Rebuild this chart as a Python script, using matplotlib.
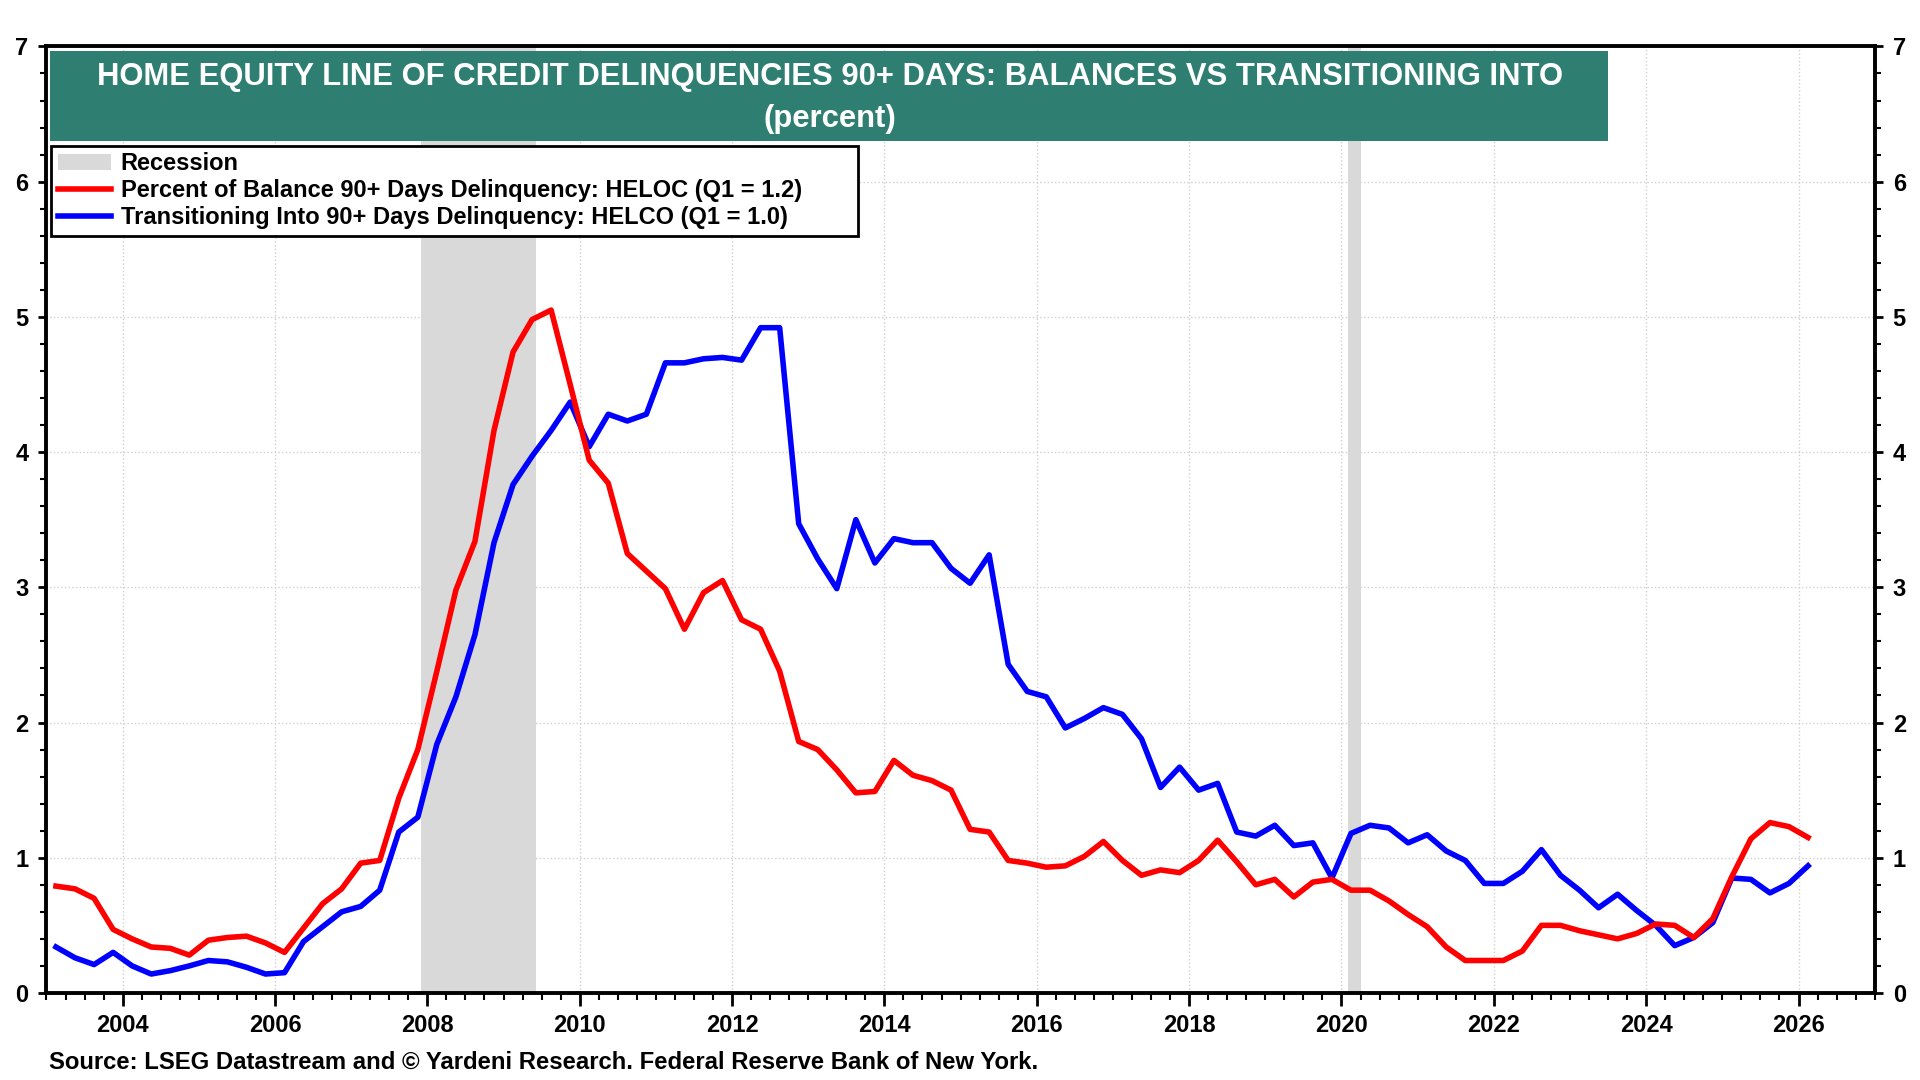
import matplotlib
matplotlib.use('Agg')
import matplotlib.pyplot as plt
import pandas as pd
from matplotlib.patches import Rectangle, Patch
from matplotlib.lines import Line2D
from matplotlib.ticker import MultipleLocator

plt.rcParams['font.family'] = ['Liberation Sans', 'DejaVu Sans']
plt.rcParams['font.weight'] = 'bold'

# Quarterly data, 2003Q1 .. 2026Q1
quarters = pd.period_range('2003Q1', '2026Q1', freq='Q')

# Percent of balance 90+ days delinquent: HELOC (red)
heloc_balance = [
    0.79, 0.77, 0.70, 0.47, 0.40, 0.34, 0.33, 0.28, 0.39, 0.41, 0.42, 0.37,
    0.30, 0.48, 0.66, 0.77, 0.96, 0.98, 1.44, 1.80, 2.38, 2.98, 3.34, 4.16,
    4.74, 4.98, 5.05, 4.50, 3.94, 3.77, 3.25, 3.12, 2.99, 2.69, 2.96, 3.05,
    2.76, 2.69, 2.38, 1.86, 1.80, 1.65, 1.48, 1.49, 1.72, 1.61, 1.57, 1.50,
    1.21, 1.19, 0.98, 0.96, 0.93, 0.94, 1.01, 1.12, 0.98, 0.87, 0.91, 0.89,
    0.98, 1.13, 0.97, 0.80, 0.84, 0.71, 0.82, 0.84, 0.76, 0.76, 0.68, 0.58,
    0.49, 0.34, 0.24, 0.24, 0.24, 0.31, 0.50, 0.50, 0.46, 0.43, 0.40, 0.44,
    0.51, 0.50, 0.41, 0.55, 0.86, 1.14, 1.26, 1.23, 1.15,
]

# Transitioning into 90+ days delinquency: HELOC (blue)
helco_transition = [
    0.34, 0.26, 0.21, 0.30, 0.20, 0.14, 0.165, 0.20, 0.24, 0.23, 0.19, 0.14,
    0.15, 0.38, 0.49, 0.60, 0.64, 0.76, 1.19, 1.30, 1.84, 2.19, 2.65, 3.33,
    3.76, 3.97, 4.16, 4.37, 4.04, 4.28, 4.23, 4.28, 4.66, 4.66, 4.69, 4.70,
    4.68, 4.92, 4.92, 3.47, 3.21, 2.99, 3.50, 3.18, 3.36, 3.33, 3.33, 3.14,
    3.03, 3.24, 2.43, 2.23, 2.19, 1.96, 2.03, 2.11, 2.06, 1.88, 1.52, 1.67,
    1.50, 1.55, 1.19, 1.16, 1.24, 1.09, 1.11, 0.85, 1.18, 1.24, 1.22, 1.11,
    1.17, 1.05, 0.98, 0.81, 0.81, 0.90, 1.06, 0.87, 0.76, 0.63, 0.73, 0.61,
    0.50, 0.35, 0.41, 0.52, 0.85, 0.84, 0.74, 0.81, 0.94,
]

recessions = [(2007.92, 2009.42), (2020.09, 2020.26)]

label_red = 'Percent of Balance 90+ Days Delinquency: HELOC (Q1 = 1.2)'
label_blue = 'Transitioning Into 90+ Days Delinquency: HELCO (Q1 = 1.0)'
title_1 = 'HOME EQUITY LINE OF CREDIT DELINQUENCIES 90+ DAYS: BALANCES VS TRANSITIONING INTO'
title_2 = '(percent)'
source = 'Source: LSEG Datastream and \u00a9 Yardeni Research. Federal Reserve Bank of New York.'

# decimal year, middle of each quarter
x = quarters.year + (quarters.quarter - 1) * 0.25 + 0.125

fig = plt.figure(figsize=(19.2, 10.8), dpi=100)
ax = fig.add_axes([0.0242, 0.0806, 0.9522, 0.8764])

for start, end in recessions:
    ax.axvspan(start, end, color='#d9d9d9', lw=0, zorder=1)

ax.plot(x, helco_transition, color='#0000ff', lw=4, zorder=3)
ax.plot(x, heloc_balance, color='#ff0000', lw=4, zorder=4)

ax.set_xlim(2003, 2027)
ax.set_ylim(0, 7)

ax.xaxis.set_major_locator(MultipleLocator(2))
ax.xaxis.set_minor_locator(MultipleLocator(0.25))
ax.yaxis.set_major_locator(MultipleLocator(1))
ax.yaxis.set_minor_locator(MultipleLocator(0.2))

ax.tick_params(axis='x', which='major', length=9, width=2, direction='out',
               labelsize=17, pad=6)
ax.tick_params(axis='x', which='minor', length=5, width=1.5, direction='out')
ax.tick_params(axis='y', which='both', left=True, right=True,
               labelleft=True, labelright=True, direction='out')
ax.tick_params(axis='y', which='major', length=6, width=2, labelsize=17, pad=7)
ax.tick_params(axis='y', which='minor', length=4, width=1.5)

for sp in ax.spines.values():
    sp.set_linewidth(2.8)

ax.grid(True, which='major', color='#cfcfcf', linestyle=':', linewidth=1, zorder=0)
ax.set_axisbelow(True)

# title banner
ax.add_patch(Rectangle((50 / 1920, 1 - 141 / 1080), 1558 / 1920, 90 / 1080,
                       transform=fig.transFigure, facecolor='#2e7e72',
                       edgecolor='none', clip_on=False, zorder=6))
fig.text(830 / 1920, 1 - 77.5 / 1080, title_1, ha='center', va='center',
         color='white', fontsize=22.3, weight='bold', zorder=7)
fig.text(830 / 1920, 1 - 119 / 1080, title_2, ha='center', va='center',
         color='white', fontsize=22.3, weight='bold', zorder=7)

handles = [
    Patch(facecolor='#d9d9d9', edgecolor='none', label='Recession'),
    Line2D([], [], color='#ff0000', lw=4, label=label_red),
    Line2D([], [], color='#0000ff', lw=4, label=label_blue),
]
leg = ax.legend(handles=handles, loc='upper left',
                bbox_to_anchor=(0.0025, 0.5, 0.4416, 0.395), mode='expand',
                borderaxespad=0, frameon=True, fancybox=False, framealpha=1,
                edgecolor='black', borderpad=0.28, handlelength=2.25,
                handletextpad=0.42, labelspacing=0.16,
                prop={'size': 17, 'weight': 'bold'})
leg.get_frame().set_linewidth(2)
leg.set_zorder(8)

fig.text(49 / 1920, 1 - 1062 / 1080, source, ha='left', va='center',
         fontsize=17.2, weight='bold')

fig.savefig('out.png', dpi=100)
